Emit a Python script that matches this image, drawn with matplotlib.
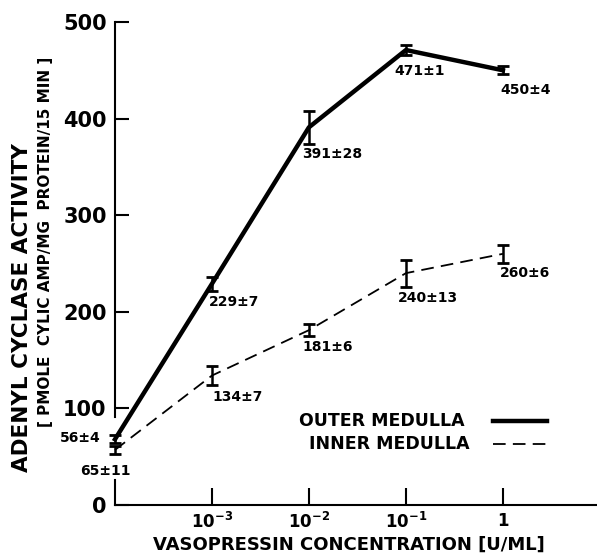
import matplotlib
matplotlib.use("Agg")
import matplotlib.pyplot as plt

# Data
positions = [0, 1, 2, 3, 4]
tick_labels = ["$10^{-3}$", "$10^{-2}$", "$10^{-1}$", "$1$"]

outer_mean = [68, 229, 391, 471, 450]
outer_err = [4, 7, 17, 5, 4]
outer_text = ["56±4", "229±7", "391±28", "471±1", "450±4"]

inner_mean = [57, 134, 181, 240, 260]
inner_err = [4, 10, 6, 14, 9]
inner_text = ["65±11", "134±7", "181±6", "240±13", "260±6"]

plt.rcParams["font.family"] = "DejaVu Sans"
plt.rcParams["font.weight"] = "bold"

fig = plt.figure(figsize=(5.97, 5.57), dpi=100)
ax = fig.add_axes([0.1926, 0.0934, 0.8074, 0.8671])

# -----------------------------
# Lines with error bars
# -----------------------------
ax.errorbar(positions, outer_mean, yerr=outer_err, color="black", lw=3.2,
            capsize=4, capthick=2, elinewidth=1.8, clip_on=False, zorder=3)
ax.errorbar(positions, inner_mean, yerr=inner_err, color="black", lw=1.3,
            ls=(0, (7, 4)), capsize=4, capthick=2, elinewidth=1.8,
            clip_on=False, zorder=3)

# value labels (offsets in data units)
outer_off = [(0, 0), (-0.03, -19), (-0.07, -28), (-0.12, -22), (-0.03, -20)]
inner_off = [(0, 0), (0.0, -22), (-0.07, -17), (-0.08, -26), (-0.03, -20)]
for i in range(len(positions)):
    if i == 0:
        ax.text(-0.15, outer_mean[i] + 1, outer_text[i], fontsize=10,
                ha="right", va="center", clip_on=False)
        ax.text(-0.36, inner_mean[i] - 22, inner_text[i], fontsize=10,
                ha="left", va="center", clip_on=False)
        continue
    ax.text(positions[i] + outer_off[i][0], outer_mean[i] + outer_off[i][1],
            outer_text[i], fontsize=10, ha="left", va="center")
    ax.text(positions[i] + inner_off[i][0], inner_mean[i] + inner_off[i][1],
            inner_text[i], fontsize=10, ha="left", va="center")

# -----------------------------
# Axes
# -----------------------------
ax.set_xlim(0, 4.97)
ax.set_ylim(0, 500)
ax.set_xticks([1, 2, 3, 4])
ax.set_xticklabels(tick_labels, fontsize=12)
ax.set_yticks([0, 100, 200, 300, 400, 500])
ax.set_yticklabels(["0", "100", "200", "300", "400", "500"], fontsize=15)
ax.tick_params(axis="x", direction="in", length=12, width=1.5, pad=5)
ax.tick_params(axis="y", direction="in", length=10, width=1.5, pad=6)

for s in ["top", "right", "left"]:
    ax.spines[s].set_visible(False)
ax.spines["bottom"].set_linewidth(1.5)
ax.axvline(0, 0, 0.052, color="black", lw=1.5, clip_on=False)
ax.axvline(0, 0.182, 1, color="black", lw=1.5, clip_on=False)

fig.text(0.037, 0.447, "ADENYL CYCLASE ACTIVITY", rotation=90, fontsize=15.5,
         ha="center", va="center")
fig.text(0.077, 0.566, "[ PMOLE  CYLIC AMP/MG  PROTEIN/15 MIN ]", rotation=90,
         fontsize=11, ha="center", va="center")
fig.text(0.585, 0.022, "VASOPRESSIN CONCENTRATION [U/ML]", fontsize=13,
         ha="center", va="center")

# -----------------------------
# Legend
# -----------------------------
ax.text(1.9, 87, "OUTER MEDULLA", fontsize=12.5, ha="left", va="center")
ax.plot([3.9, 4.45], [87, 87], color="black", lw=3.2)
ax.text(2.0, 63, "INNER MEDULLA", fontsize=12.5, ha="left", va="center")
ax.plot([3.9, 4.45], [63, 63], color="black", lw=1.3, ls=(0, (7, 4)))

fig.savefig("out.png", dpi=100)
